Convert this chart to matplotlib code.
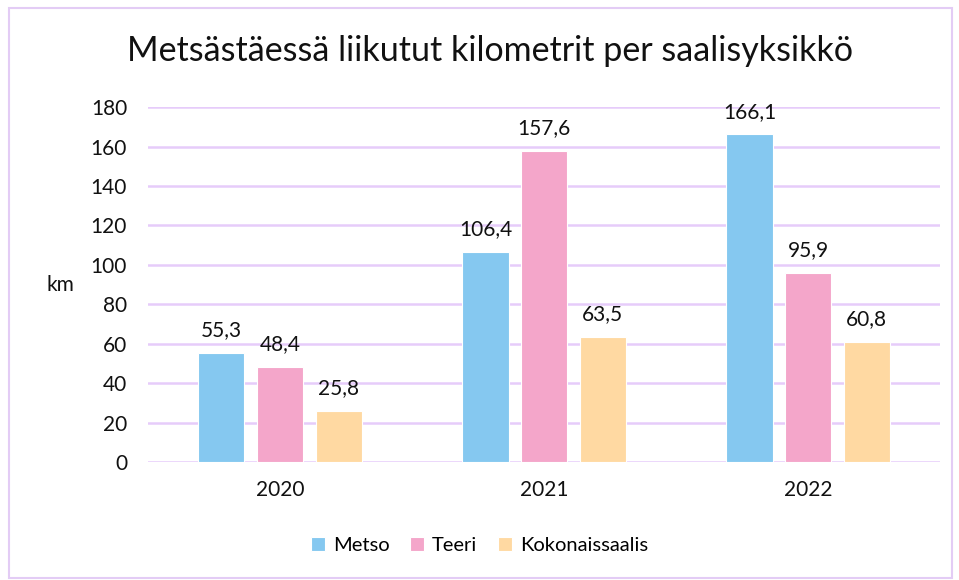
import matplotlib
matplotlib.use('Agg')
import matplotlib.pyplot as plt
from matplotlib.patches import Rectangle
import numpy as np

plt.rcParams['font.family'] = ['Lato', 'DejaVu Sans']

years = ['2020', '2021', '2022']
series = ['Metso', 'Teeri', 'Kokonaissaalis']
metso = [55.3, 106.4, 166.1]
teeri = [48.4, 157.6, 95.9]
kokonais = [25.8, 63.5, 60.8]
colors = ['#85C8F0', '#F4A6CA', '#FFD9A2']

fig = plt.figure(figsize=(9.59, 5.8), dpi=100)
fig.patches.append(Rectangle((0.009, 0.004), 0.984, 0.982, transform=fig.transFigure,
                             fill=False, edgecolor='#E3CCF5', linewidth=1.5))

ax = fig.add_axes([0.1543, 0.2034, 0.826, 0.612])
x = np.arange(len(years))
width = 0.175
step = 0.222
for i, (name, vals) in enumerate(zip(series, [metso, teeri, kokonais])):
    pos = x + (i - 1) * step
    ax.bar(pos, vals, width, color=colors[i], label=name, zorder=3,
           edgecolor='white', linewidth=0.8)
    for p, v in zip(pos, vals):
        ax.text(p, v + 6.5, f'{v:.1f}'.replace('.', ','), ha='center', va='bottom',
                fontsize=15, color='#111111')

ax.set_xlim(-0.5, 2.5)
ax.set_ylim(0, 180)
ax.set_yticks(range(0, 181, 20))
ax.set_xticks(x)
ax.set_xticklabels(years)
ax.yaxis.grid(True, color='#E6CCFA', linewidth=1.8, zorder=0)
ax.set_axisbelow(True)
for s in ax.spines.values():
    s.set_visible(False)
ax.tick_params(length=0, labelsize=15, colors='#111111')
ax.tick_params(axis='y', pad=15)
ax.tick_params(axis='x', pad=13)

fig.text(0.063, 0.508, 'km', fontsize=15, ha='center', va='center', color='#111111')
fig.text(0.511, 0.912, 'Metsästäessä liikutut kilometrit per saalisyksikkö',
         fontsize=24.5, ha='center', va='center', color='#111111')

leg = fig.legend(loc='center', bbox_to_anchor=(0.5, 0.06), ncol=3, frameon=False,
                 fontsize=14.5, handlelength=0.7, handleheight=0.7, columnspacing=1.0,
                 handletextpad=0.4)

fig.savefig('out.png', dpi=100)
